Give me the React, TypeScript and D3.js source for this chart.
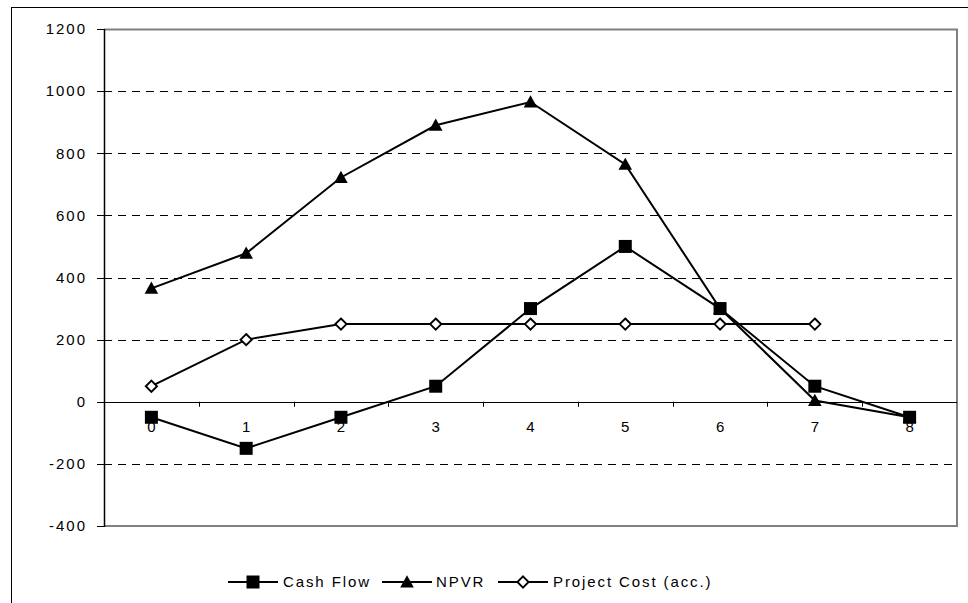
import React from "react";
import * as d3 from "d3";

const categories = ["0", "1", "2", "3", "4", "5", "6", "7", "8"];
const cashFlow = [-50, -150, -50, 50, 300, 500, 300, 50, -50];
const npvr = [365, 478, 722, 890, 965, 764, 300, 4, -50];
const projectCost: (number | null)[] = [50, 200, 250, 250, 250, 250, 250, 250, null];
const yTicks = [-400, -200, 0, 200, 400, 600, 800, 1000, 1200];
const seriesNames = ["Cash Flow", "NPVR", "Project Cost (acc.)"];

const W = 968;
const H = 603;
const plot = { left: 104, right: 957, top: 29, bottom: 526 };
const FONT = "'Liberation Sans', Arial, sans-serif";

function Marker({ kind, x, y }: { kind: string; x: number; y: number }) {
  if (kind === "square") {
    return <rect x={x - 6.5} y={y - 6.5} width={13} height={13} fill="#000" />;
  }
  if (kind === "triangle") {
    const s = 6.8;
    return (
      <path
        d={`M${x},${y - s} L${x + s},${y + s * 0.8} L${x - s},${y + s * 0.8} Z`}
        fill="#000"
      />
    );
  }
  const r = 5.6;
  return (
    <path
      d={`M${x},${y - r} L${x + r},${y} L${x},${y + r} L${x - r},${y} Z`}
      fill="#fff"
      stroke="#000"
      strokeWidth={1.9}
    />
  );
}

export default function App() {
  const x = d3
    .scaleBand<string>()
    .domain(categories)
    .range([plot.left, plot.right])
    .paddingInner(0)
    .paddingOuter(0);
  const cx = (c: string) => (x(c) as number) + x.bandwidth() / 2;
  const y = d3.scaleLinear().domain([-400, 1200]).range([plot.bottom, plot.top]);

  const series = [
    { name: seriesNames[0], values: cashFlow as (number | null)[], marker: "square" },
    { name: seriesNames[1], values: npvr as (number | null)[], marker: "triangle" },
    { name: seriesNames[2], values: projectCost, marker: "diamond" },
  ];

  const line = d3
    .line<{ c: string; v: number | null }>()
    .defined((d) => d.v !== null)
    .x((d) => cx(d.c))
    .y((d) => y(d.v as number));

  const legendItems = [
    { lineX: 228, textX: 283 },
    { lineX: 382, textX: 436 },
    { lineX: 498, textX: 553 },
  ];
  const legendY = 582;

  return (
    <svg
      width={W}
      height={H}
      style={{ position: "absolute", left: 0, top: 0, background: "#fff" }}
      fontFamily={FONT}
    >
      <rect x={0} y={0} width={W} height={H} fill="#fff" />
      {/* outer border */}
      <rect x={11.5} y={7.5} width={W + 10} height={H + 10} fill="none" stroke="#000" strokeWidth={1} />

      {/* gridlines */}
      {yTicks
        .filter((t) => t !== 0 && t !== -400 && t !== 1200)
        .map((t) => (
          <line
            key={t}
            x1={plot.left}
            x2={plot.right}
            y1={Math.round(y(t)) + 0.5}
            y2={Math.round(y(t)) + 0.5}
            stroke="#000"
            strokeWidth={1}
            strokeDasharray="8,6"
          />
        ))}

      {/* plot border (gray) */}
      <path
        d={`M${plot.left},${plot.top + 0.5} H${plot.right} V${plot.bottom} H${plot.left}`}
        fill="none"
        stroke="#808080"
        strokeWidth={2}
      />

      {/* zero line (category axis) */}
      <line
        x1={plot.left}
        x2={plot.right}
        y1={Math.round(y(0)) + 0.5}
        y2={Math.round(y(0)) + 0.5}
        stroke="#000"
        strokeWidth={1}
      />
      {categories.map((c, i) => {
        const bx = Math.round((x(c) as number) + x.bandwidth()) + 0.5;
        return i < categories.length - 1 ? (
          <line key={c} x1={bx} x2={bx} y1={y(0)} y2={y(0) + 5} stroke="#000" strokeWidth={1} />
        ) : null;
      })}

      {/* y axis */}
      <line x1={plot.left + 0.5} x2={plot.left + 0.5} y1={plot.top} y2={plot.bottom + 1} stroke="#000" strokeWidth={1.5} />
      {yTicks.map((t) => (
        <g key={t}>
          <line
            x1={plot.left - 7}
            x2={plot.left}
            y1={Math.round(y(t)) + 0.5}
            y2={Math.round(y(t)) + 0.5}
            stroke="#000"
            strokeWidth={1}
          />
          <text
            x={87}
            y={y(t)}
            dy="0.35em"
            textAnchor="end"
            fontSize={15}
            letterSpacing={2}
            fill="#000"
          >
            {t}
          </text>
        </g>
      ))}

      {/* category labels */}
      {categories.map((c) => (
        <text
          key={c}
          x={cx(c)}
          y={y(0) + 25}
          dy="0.35em"
          textAnchor="middle"
          fontSize={15}
          fill="#000"
        >
          {c}
        </text>
      ))}

      {/* series lines */}
      {series.map((s) => (
        <path
          key={s.name}
          d={line(categories.map((c, i) => ({ c, v: s.values[i] }))) || ""}
          fill="none"
          stroke="#000"
          strokeWidth={2}
        />
      ))}
      {/* markers */}
      {series.map((s) =>
        categories.map((c, i) =>
          s.values[i] === null ? null : (
            <Marker key={s.name + c} kind={s.marker} x={cx(c)} y={y(s.values[i] as number)} />
          )
        )
      )}

      {/* legend */}
      {series.map((s, i) => {
        const it = legendItems[i];
        return (
          <g key={s.name}>
            <line x1={it.lineX} x2={it.lineX + 50} y1={legendY} y2={legendY} stroke="#000" strokeWidth={2} />
            <Marker kind={s.marker} x={it.lineX + 25} y={legendY} />
            <text
              x={it.textX}
              y={legendY}
              dy="0.35em"
              fontSize={15}
              letterSpacing={1.9}
              fill="#000"
            >
              {s.name}
            </text>
          </g>
        );
      })}
    </svg>
  );
}
